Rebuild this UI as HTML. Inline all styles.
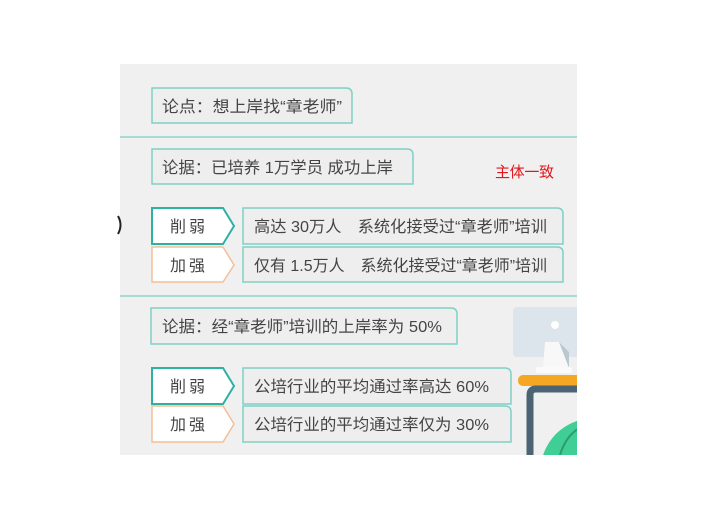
<!DOCTYPE html>
<html><head><meta charset="utf-8"><style>
html,body{margin:0;padding:0;background:#fff;}
svg text{font-family:"Liberation Sans","Noto Sans CJK SC",sans-serif;}
</style></head><body>
<svg width="715" height="504" viewBox="0 0 715 504" xmlns="http://www.w3.org/2000/svg">
<defs><clipPath id="slideclip"><rect x="120" y="64" width="457" height="391"/></clipPath></defs>
<rect x="120" y="64" width="457" height="391" fill="#f0f0f0"/>
<path d="M118,216 q5,9 0,18" stroke="#222" stroke-width="2" fill="none"/>
<line x1="120" y1="137" x2="577" y2="137" stroke="#8fd3cc" stroke-width="1.5"/>
<line x1="120" y1="296" x2="577" y2="296" stroke="#8fd3cc" stroke-width="1.5"/>

<g clip-path="url(#slideclip)">
<rect x="513" y="307" width="75" height="50" rx="4" fill="#dce5eb"/>
<circle cx="555" cy="325" r="4" fill="#fff"/>
<path d="M545,342 h14 l10,10 v16 h-26 z" fill="#f8f8f8"/>
<path d="M559,342 l10,10 v16 z" fill="#b8c7d0"/>
<rect x="536" y="367" width="36" height="6" rx="2" fill="#fafafa"/>
<rect x="518" y="375" width="70" height="11" rx="5" fill="#f5a623"/>
<path d="M530,455 V395 q0,-6 6,-6 H585" stroke="#4b6373" stroke-width="7" fill="none"/>
<path d="M543,455 q10,-28 40,-36 V455 z" fill="#3fcf95"/>
<path d="M560,455 q6,-20 21,-28" stroke="#2a9c70" stroke-width="2" fill="none"/>
</g>

<g>
<path d="M152,88 H346 q6,0 6,6 V123 H152 z" fill="#eeeeee" stroke="#7fcfc6" stroke-width="1.5"/>
<text x="162" y="112" font-size="16" fill="#444" textLength="180" lengthAdjust="spacingAndGlyphs">论点：想上岸找“章老师”</text>
</g>
<g>
<path d="M152,149 H407 q6,0 6,6 V184 H152 z" fill="#eeeeee" stroke="#7fcfc6" stroke-width="1.5"/>
<text x="162" y="173" font-size="16" fill="#444" textLength="231" lengthAdjust="spacingAndGlyphs">论据：已培养 1万学员 成功上岸</text>
</g>
<text x="495" y="177" font-size="15" fill="#e3161c" textLength="59">主体一致</text>

<g>
<path d="M152,208 H223 L234,226 L223,244 H152 z" fill="#fff" stroke="#2cb2a4" stroke-width="2"/>
<text x="170" y="232" font-size="16" fill="#444" textLength="35">削 弱</text>
</g>
<g>
<path d="M243,208 H557 q6,0 6,6 V244 H243 z" fill="#eeeeee" stroke="#7fcfc6" stroke-width="1.5"/>
<text x="254" y="232" font-size="16" fill="#444" textLength="293" lengthAdjust="spacingAndGlyphs">高达 30万人　系统化接受过“章老师”培训</text>
</g>
<g>
<path d="M152,247 H223 L234,265 L223,282 H152 z" fill="#fff" stroke="#f3bf98" stroke-width="1.5"/>
<text x="170" y="271" font-size="16" fill="#444" textLength="35">加 强</text>
</g>
<g>
<path d="M243,247 H557 q6,0 6,6 V282 H243 z" fill="#eeeeee" stroke="#7fcfc6" stroke-width="1.5"/>
<text x="254" y="271" font-size="16" fill="#444" textLength="293" lengthAdjust="spacingAndGlyphs">仅有 1.5万人　系统化接受过“章老师”培训</text>
</g>

<g>
<path d="M151,308 H451 q6,0 6,6 V344 H151 z" fill="#eeeeee" stroke="#7fcfc6" stroke-width="1.5"/>
<text x="162" y="332" font-size="16" fill="#444" textLength="280" lengthAdjust="spacingAndGlyphs">论据：经“章老师”培训的上岸率为 50%</text>
</g>
<g>
<path d="M152,368 H223 L234,386 L223,404 H152 z" fill="#fff" stroke="#2cb2a4" stroke-width="2"/>
<text x="170" y="392" font-size="16" fill="#444" textLength="35">削 弱</text>
</g>
<g>
<path d="M243,368 H505 q6,0 6,6 V404 H243 z" fill="#eeeeee" stroke="#7fcfc6" stroke-width="1.5"/>
<text x="254" y="392" font-size="16" fill="#444" textLength="235" lengthAdjust="spacingAndGlyphs">公培行业的平均通过率高达 60%</text>
</g>
<g>
<path d="M152,406 H223 L234,424 L223,442 H152 z" fill="#fff" stroke="#f3bf98" stroke-width="1.5"/>
<text x="170" y="430" font-size="16" fill="#444" textLength="35">加 强</text>
</g>
<g>
<path d="M243,406 H505 q6,0 6,6 V442 H243 z" fill="#eeeeee" stroke="#7fcfc6" stroke-width="1.5"/>
<text x="254" y="430" font-size="16" fill="#444" textLength="235" lengthAdjust="spacingAndGlyphs">公培行业的平均通过率仅为 30%</text>
</g>
</svg>
</body></html>
